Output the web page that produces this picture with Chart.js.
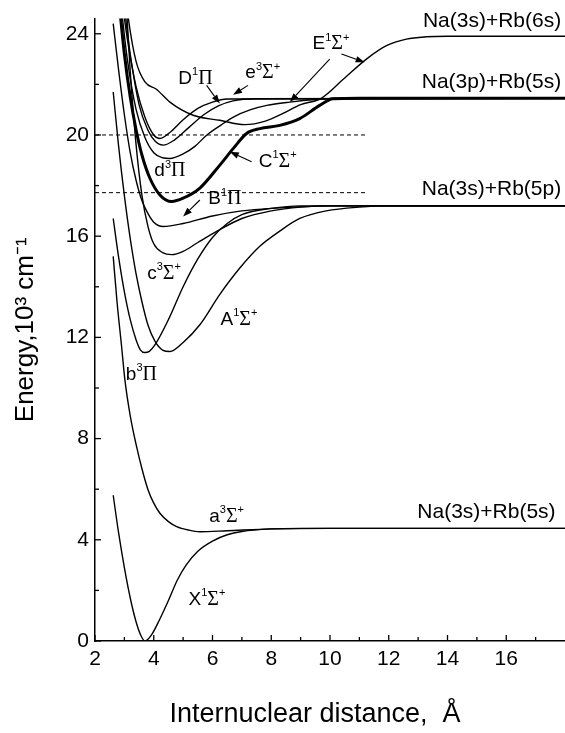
<!DOCTYPE html>
<html><head><meta charset="utf-8">
<script src="https://cdn.jsdelivr.net/npm/chart.js@4.4.1/dist/chart.umd.min.js"></script>
<style>html,body{margin:0;padding:0;background:#fff;}#wrap{width:565px;height:733px;}</style>
</head><body><div id="wrap"><canvas id="c" width="565" height="733"></canvas></div>
<script>
// ---- tick values ----
const X_TICKS = [2,4,6,8,10,12,14,16];
const X_MINOR = [3,5,7,9,11,13,15,17];
const Y_TICKS = [0,4,8,12,16,20,24];
const Y_MINOR = [2,6,10,14,18,22];

// ---- potential curves (R in Å, E in 10^3 cm^-1) ----
const X_R = [2.62,2.8,3.0,3.2,3.4,3.55,3.7,3.9,4.2,4.5,4.8,5.1,5.5,6.0,6.5,7.0,8.0,9.0,18];
const X_E = [5.76,4.3,2.9,1.7,0.75,0.25,0.0,0.2,0.85,1.6,2.4,3.0,3.55,3.95,4.2,4.33,4.43,4.45,4.45];
const a_R = [2.62,2.75,2.9,3.02,3.2,3.42,3.6,3.81,4.0,4.21,4.5,4.78,5.2,5.57,6.5,8.0,10,18];
const a_E = [15.2,13.4,11.7,10.3,8.9,7.66,6.8,5.96,5.45,5.05,4.72,4.52,4.38,4.32,4.36,4.43,4.45,4.45];
const b_R = [2.62,2.8,3.0,3.2,3.4,3.55,3.7,3.85,4.04,4.5,5.0,5.5,6.0,6.5,7.0,8.0,9.0,18];
const b_E = [16.7,15.2,13.8,12.7,11.9,11.5,11.4,11.45,11.7,12.7,14.0,15.1,15.95,16.5,16.85,17.1,17.2,17.2];
const A_R = [2.62,2.8,3.0,3.2,3.4,3.6,3.8,4.04,4.3,4.55,5.0,5.57,6.25,6.93,7.61,8.29,8.97,9.87,11,12,18];
const A_E = [21.7,19.6,17.6,15.9,14.5,13.4,12.5,11.85,11.5,11.44,11.8,12.5,13.7,14.74,15.6,16.2,16.7,17.0,17.15,17.2,17.2];
const c_R = [3.05,3.2,3.4,3.6,3.8,4.0,4.3,4.61,5.0,5.5,6.14,7.0,8.0,9.0,10,18];
const c_E = [25.5,22.5,19.6,17.6,16.4,15.7,15.35,15.27,15.4,15.75,16.19,16.7,17.0,17.15,17.2,17.2];
const B_R = [2.62,2.8,3.0,3.2,3.4,3.6,3.8,4.0,4.32,5.0,6.0,7.0,8.0,10,18];
const B_E = [24.4,22.6,20.8,19.3,18.2,17.4,16.9,16.55,16.38,16.5,16.8,17.0,17.1,17.2,17.2];
const C_R = [2.8,3.0,3.2,3.4,3.6,3.87,4.21,4.61,5.0,5.57,6.25,6.71,7.16,7.61,8.29,8.97,9.65,10.1,11,18];
const C_E = [25.5,23.2,21.5,20.2,19.2,18.29,17.63,17.37,17.5,17.9,18.81,19.47,20.06,20.25,20.38,20.65,21.17,21.43,21.45,21.45];
const d_R = [2.85,3.1,3.4,3.7,4.0,4.3,4.55,5.0,5.4,5.8,6.3,6.71,7.3,7.85,8.63,9.5,10.5,18];
const d_E = [25.5,23.0,21.0,19.9,19.3,19.1,19.07,19.25,19.55,19.99,20.4,20.71,21.0,21.17,21.3,21.4,21.45,21.45];
const e_R = [2.95,3.2,3.5,3.8,4.05,4.32,4.7,5.2,5.7,6.2,6.7,7.5,18];
const e_E = [25.5,23.2,21.2,20.2,19.75,19.6,19.8,20.3,20.8,21.15,21.35,21.43,21.45];
const D_R = [2.9,3.1,3.4,3.7,4.0,4.21,4.6,5.0,5.5,6.0,6.5,18];
const D_E = [25.5,23.8,21.9,20.7,20.0,19.86,20.15,20.6,21.05,21.3,21.42,21.45];
const E_R = [3.05,3.13,3.4,3.7,4.1,4.55,5.34,6.25,7.1,7.8,8.4,9.0,9.7,10.45,11.24,11.92,12.6,13.28,14,18];
const E_E = [25.5,24.65,22.9,22.1,21.8,21.3,20.78,20.58,20.41,20.55,20.85,21.2,21.45,22.2,23.0,23.53,23.79,23.88,23.9,23.9];
// dashed reference levels
const DASH_R = [2,11.24];
const DASH1_E = [20.0,20.0];
const DASH2_E = [17.72,17.72];

const pts = (r,e)=>r.map((v,i)=>({x:v,y:e[i]}));
const curve = (label,r,e,w)=>({label,data:pts(r,e),borderColor:'#000',borderWidth:w||1.4,pointRadius:0,showLine:true,fill:false,cubicInterpolationMode:'monotone'});
const datasets = [
  curve('X1Σ+',X_R,X_E), curve('a3Σ+',a_R,a_E), curve('b3Π',b_R,b_E), curve('A1Σ+',A_R,A_E),
  curve('c3Σ+',c_R,c_E), curve('B1Π',B_R,B_E), curve('C1Σ+',C_R,C_E,3), curve('d3Π',d_R,d_E),
  curve('e3Σ+',e_R,e_E), curve('D1Π',D_R,D_E), curve('E1Σ+',E_R,E_E),
  Object.assign(curve('dash1',DASH_R,DASH1_E,1),{borderDash:[4,3],cubicInterpolationMode:'default'}),
  Object.assign(curve('dash2',DASH_R,DASH2_E,1),{borderDash:[4,3],cubicInterpolationMode:'default'})
];

// ---- text annotations (data coordinates) ----
const LABELS = [
  {parts:[['D'],['1','s'],['Π','g']], x:5.42, y:22.29},
  {parts:[['e'],['3','s'],['Σ','g'],['+','s']], x:7.71, y:22.52},
  {parts:[['d'],['3','s'],['Π','g']], x:4.55, y:18.63},
  {parts:[['C'],['1','s'],['Σ','g'],['+','s']], x:8.22, y:19.02},
  {parts:[['E'],['1','s'],['Σ','g'],['+','s']], x:10.03, y:23.66},
  {parts:[['B'],['1','s'],['Π','g']], x:6.42, y:17.53},
  {parts:[['c'],['3','s'],['Σ','g'],['+','s']], x:4.35, y:14.58},
  {parts:[['A'],['1','s'],['Σ','g'],['+','s']], x:6.9, y:12.77},
  {parts:[['b'],['3','s'],['Π','g']], x:3.58, y:10.6},
  {parts:[['a'],['3','s'],['Σ','g'],['+','s']], x:6.48, y:4.98},
  {parts:[['X'],['1','s'],['Σ','g'],['+','s']], x:5.81, y:1.71}
];
const ASYMPTOTES = [
  {text:'Na(3s)+Rb(6s)', x:17.87, y:24.49},
  {text:'Na(3p)+Rb(5s)', x:17.87, y:22.09},
  {text:'Na(3s)+Rb(5p)', x:17.87, y:17.84},
  {text:'Na(3s)+Rb(5s)', x:17.68, y:5.1}
];
const ARROWS = [
  {x1:5.80,y1:21.96,x2:6.25,y2:21.24},
  {x1:7.21,y1:21.96,x2:6.70,y2:21.59},
  {x1:7.33,y1:18.94,x2:6.59,y2:19.34},
  {x1:9.99,y1:23.0,x2:8.63,y2:21.3},
  {x1:10.39,y1:23.2,x2:11.18,y2:22.87},
  {x1:5.57,y1:17.43,x2:5.0,y2:16.78}
];

const FONT = '"Liberation Sans", Arial, Helvetica, sans-serif';
const GFONT = '"Liberation Serif", "Times New Roman", serif';
const BASE = 19;

function drawRich(ctx, parts, cx, cy){
  const segs = parts.map(([t,k])=>{
    const f = k==='s' ? `${Math.round(BASE*0.6)}px ${FONT}` : (k==='g' ? `${BASE+1}px ${GFONT}` : `${BASE}px ${FONT}`);
    ctx.font = f; return {t,k,f,w:ctx.measureText(t).width};
  });
  const total = segs.reduce((s,g)=>s+g.w,0);
  let x = cx - total/2;
  ctx.textBaseline='alphabetic'; ctx.textAlign='left';
  const base = cy + BASE*0.36;
  for (const g of segs){
    ctx.font = g.f;
    ctx.fillText(g.t, x, g.k==='s' ? base - BASE*0.45 : base);
    x += g.w;
  }
}

const annot = {
  id:'annot',
  afterDatasetsDraw(chart){
    const {ctx, scales:{x,y}, chartArea:a} = chart;
    ctx.save();
    ctx.fillStyle='#000'; ctx.strokeStyle='#000';
    ctx.lineWidth=1.3;
    const tick=(px,py,dx,dy)=>{ctx.beginPath();ctx.moveTo(px,py);ctx.lineTo(px+dx,py+dy);ctx.stroke();};
    X_TICKS.forEach(v=>tick(x.getPixelForValue(v),a.bottom,0,-6));
    X_MINOR.forEach(v=>tick(x.getPixelForValue(v),a.bottom,0,-4));
    Y_TICKS.forEach(v=>tick(a.left,y.getPixelForValue(v),6,0));
    Y_MINOR.forEach(v=>tick(a.left,y.getPixelForValue(v),4,0));
    LABELS.forEach(l=>drawRich(ctx,l.parts,x.getPixelForValue(l.x),y.getPixelForValue(l.y)));
    ctx.font = `21px ${FONT}`; ctx.textAlign='right'; ctx.textBaseline='middle';
    ASYMPTOTES.forEach(t=>ctx.fillText(t.text, x.getPixelForValue(t.x), y.getPixelForValue(t.y)));
    ctx.lineWidth=1.1;
    ARROWS.forEach(ar=>{
      const x1=x.getPixelForValue(ar.x1), y1=y.getPixelForValue(ar.y1);
      const x2=x.getPixelForValue(ar.x2), y2=y.getPixelForValue(ar.y2);
      const ang=Math.atan2(y2-y1,x2-x1), L=9, W=3.2;
      const bx=x2-L*Math.cos(ang), by=y2-L*Math.sin(ang);
      ctx.beginPath(); ctx.moveTo(x1,y1); ctx.lineTo(bx,by); ctx.stroke();
      ctx.beginPath(); ctx.moveTo(x2,y2);
      ctx.lineTo(bx+W*Math.sin(ang), by-W*Math.cos(ang));
      ctx.lineTo(bx-W*Math.sin(ang), by+W*Math.cos(ang));
      ctx.closePath(); ctx.fill();
    });
    ctx.restore();
  }
};

new Chart(document.getElementById('c'), {
  type:'scatter',
  data:{datasets},
  options:{
    responsive:false, animation:false, devicePixelRatio:1,
    layout:{padding:{top:15,right:0,left:0,bottom:0}},
    plugins:{legend:{display:false}, tooltip:{enabled:false}},
    scales:{
      x:{type:'linear', min:2, max:18,
        afterBuildTicks:s=>{s.ticks = X_TICKS.map(v=>({value:v}));},
        afterFit:s=>{s.height = 92;},
        grid:{display:false, drawTicks:false},
        border:{display:true, color:'#000', width:1.5},
        ticks:{color:'#000', font:{family:FONT, size:21}, padding:6, maxRotation:0, autoSkip:false},
        title:{display:true, text:'Internuclear distance,  Å\u00a0\u00a0\u00a0\u00a0', color:'#000', font:{family:FONT, size:27}, padding:{top:0,bottom:2}}
      },
      y:{type:'linear', min:0, max:24.6,
        afterBuildTicks:s=>{s.ticks = Y_TICKS.map(v=>({value:v}));},
        afterFit:s=>{s.width = 95;},
        grid:{display:false, drawTicks:false},
        border:{display:true, color:'#000', width:1.5},
        ticks:{color:'#000', font:{family:FONT, size:21}, padding:6, autoSkip:false},
        title:{display:true, text:'Energy,10³ cm⁻¹', color:'#000', font:{family:FONT, size:26}, padding:{top:10,bottom:0}}
      }
    }
  },
  plugins:[annot]
});
</script></body></html>
